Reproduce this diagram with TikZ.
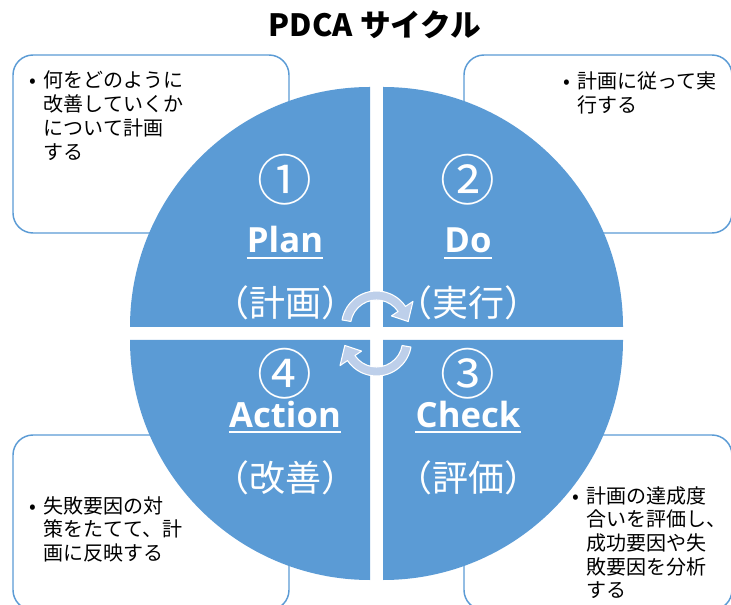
\documentclass[tikz,border=0pt]{standalone}
\usepackage{fontspec}
\setmainfont{Noto Sans CJK JP}
\newfontfamily\latinfont{Open Sans}
\usepackage{tikz}
\usetikzlibrary{calc}
\definecolor{pdcablue}{RGB}{91,155,213}
\definecolor{cycleblue}{RGB}{189,207,234}
\newcommand{\noteitem}[1]{\makebox[11pt][l]{\textbullet}\begin{tabular}[t]{@{}l@{}}#1\end{tabular}}

\begin{document}
\begin{tikzpicture}[x=0.75pt,y=-0.75pt]
\tikzstyle{quad}=[fill=pdcablue]
\tikzstyle{note}=[draw=pdcablue, line width=1.1pt, rounded corners=15pt, fill=white]
\tikzstyle{notetext}=[inner sep=0, anchor=base west, font=\fontsize{15}{17.6}\selectfont]
\tikzstyle{num}=[text=white, inner sep=0, font=\fontsize{41}{41}\selectfont]
\tikzstyle{word}=[text=white, inner sep=0, anchor=base, font=\latinfont\bfseries\fontsize{26}{26}\selectfont]
\tikzstyle{kanji}=[text=white, inner sep=0, font=\fontsize{27}{27}\selectfont]
\tikzstyle{cyc}=[fill=cycleblue, draw=white, line width=0.8pt, line join=round]
\useasboundingbox (0,0) rectangle (731,605);
\clip (0,0) rectangle (731,605);
\node[font=\bfseries\fontsize{23}{23}\selectfont] (title) at (375,25) {PDCA サイクル};
% boxes behind the circle
\foreach \x/\y/\w/\h in {13/55/276/178, 464/55/268/178, 13/435/276/175, 464/435/268/175}
    \draw[note] (\x,\y) rectangle ++(\w,\h);
% the four quarters
\foreach \cx/\cy/\a in {370/327/180, 383/327/270, 383/340/0, 370/340/90}
    \fill[quad] (\cx,\cy) -- ++(\a:240) arc[start angle=\a, delta angle=90, radius=240] -- cycle;
\foreach \name/\x/\yn/\yb/\yk/\n/\en/\ja in {plan/285/180/253/303/①/Plan/計画, do/468/180/253/303/②/Do/実行,
        act/285/374/427/478/④/Action/改善, check/468/374/427/478/③/Check/評価}
       {
        \node[num] (\name-num) at (\x,\yn) {\n};
        \node[word] (\name-en) at (\x,\yb) {\en};
        \node[kanji] (\name-ja) at (\x,\yk) {（\ja）};
        \draw[white, line width=1.5pt] ([yshift=-4pt]\name-en.base west) -- ([yshift=-4pt]\name-en.base east);
       }
% cycle arrows
\foreach \cy/\r in {326/0, 341/180}
    \filldraw[cyc, shift={(376.5,\cy)}, rotate=\r] (190:35) arc[start angle=190, end angle=326, radius=35]
        -- (326:44) -- (352:32) -- (326:18) -- (326:26) arc[start angle=326, end angle=190, radius=26] -- cycle;
\node[notetext] (planNote) at (29,88) {\noteitem{何をどのように\\改善していくか\\について計画\\する}};
\node[notetext] (doNote) at (563,89) {\noteitem{計画に従って実\\行する}};
\node[notetext] (actNote) at (29,513) {\noteitem{失敗要因の対\\策をたてて、計\\画に反映する}};
\node[notetext] (checkNote) at (572,503) {\noteitem{計画の達成度\\合いを評価し、\\成功要因や失\\敗要因を分析\\する}};
\end{tikzpicture}
\end{document}
